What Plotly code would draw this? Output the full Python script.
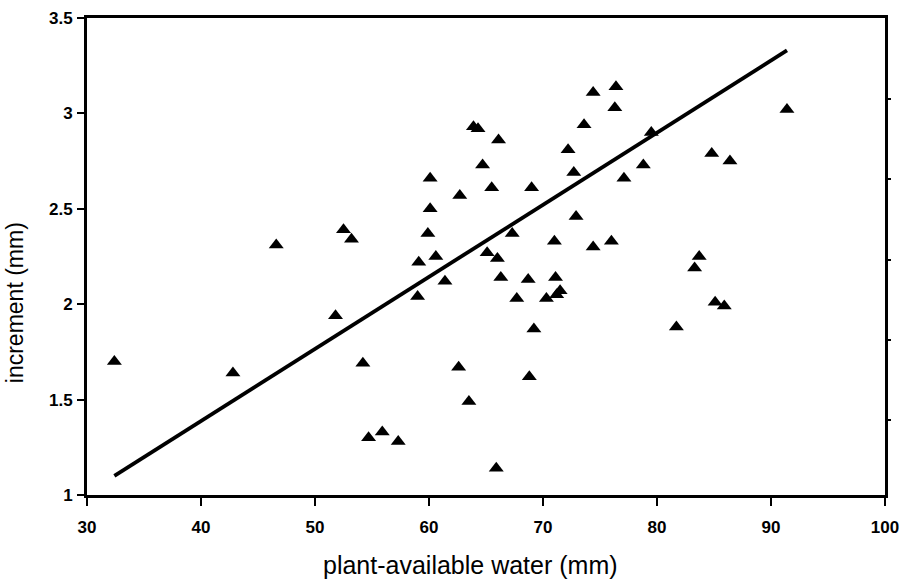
import plotly.graph_objects as go

# plant-available water (mm)
water = [32.4, 42.8, 46.6, 51.8, 52.5, 53.2, 54.2, 54.7, 55.9, 57.3,
         59.0, 59.1, 60.1, 60.1, 59.9, 60.6, 61.4, 62.6, 62.7, 63.5,
         63.9, 64.3, 64.7, 65.5, 65.1, 66.1, 66.0, 69.0, 67.3, 66.3,
         68.7, 71.1, 71.0, 72.9, 72.7, 72.2, 73.6, 74.4, 76.4, 76.3,
         74.4, 76.0, 77.1, 78.8, 79.5, 84.8, 86.4, 91.4, 83.7, 83.3,
         85.1, 85.9, 81.7, 67.7, 69.2, 68.8, 70.3, 71.2, 71.5, 65.9]
# increment (mm)
increment = [1.70, 1.64, 2.31, 1.94, 2.39, 2.34, 1.69, 1.30, 1.33, 1.28,
             2.04, 2.22, 2.66, 2.50, 2.37, 2.25, 2.12, 1.67, 2.57, 1.49,
             2.93, 2.92, 2.73, 2.61, 2.27, 2.86, 2.24, 2.61, 2.37, 2.14,
             2.13, 2.14, 2.33, 2.46, 2.69, 2.81, 2.94, 3.11, 3.14, 3.03,
             2.30, 2.33, 2.66, 2.73, 2.90, 2.79, 2.75, 3.02, 2.25, 2.19,
             2.01, 1.99, 1.88, 2.03, 1.87, 1.62, 2.03, 2.05, 2.07, 1.14]

# regression line end points
fit_x = [32.4, 91.4]
fit_y = [1.10, 3.33]

x_ticks = [30, 40, 50, 60, 70, 80, 90, 100]
x_tick_text = ["<b>%d</b>" % v for v in x_ticks]
y_ticks = [1, 1.5, 2, 2.5, 3, 3.5]
y_tick_text = ["<b>1</b>", "<b>1.5</b>", "<b>2</b>", "<b>2.5</b>", "<b>3</b>", "<b>3.5</b>"]
right_ticks = [0, 1, 2, 3, 4]

x_title = "plant-available water (mm)"
y_title = "increment (mm)"

FONT = "Liberation Sans, Arial, sans-serif"

fig = go.Figure()
fig.add_trace(go.Scatter(x=fit_x, y=fit_y, mode="lines",
                         line=dict(color="black", width=3.8), showlegend=False))
fig.add_trace(go.Scatter(x=water, y=increment, mode="markers",
                         marker=dict(symbol="triangle-up", size=13, color="black"),
                         showlegend=False))
# invisible trace for the unlabeled right-hand axis
fig.add_trace(go.Scatter(x=[None], y=[None], yaxis="y2", showlegend=False))

tickfont = dict(family=FONT, size=17, color="black")
fig.update_layout(
    width=902, height=585,
    margin=dict(l=87, r=17, t=18, b=90),
    paper_bgcolor="white", plot_bgcolor="white",
    xaxis=dict(range=[30, 100], tickvals=x_ticks, ticktext=x_tick_text,
               ticks="outside", ticklen=8, tickwidth=2, tickcolor="black",
               showline=True, linewidth=3, linecolor="black", mirror=True,
               showgrid=False, zeroline=False, automargin=False,
               ticklabelstandoff=7, tickfont=tickfont),
    yaxis=dict(range=[1, 3.5], tickvals=y_ticks, ticktext=y_tick_text,
               ticks="outside", ticklen=7, tickwidth=2, tickcolor="black",
               showline=True, linewidth=3, linecolor="black", mirror=True,
               showgrid=False, zeroline=False, automargin=False,
               ticklabelstandoff=1, tickfont=tickfont),
    yaxis2=dict(overlaying="y", side="right", range=[-0.94, 5.016],
                tickvals=right_ticks, showticklabels=False, ticks="outside",
                ticklen=5, tickwidth=2, tickcolor="black", showline=False,
                showgrid=False, zeroline=False, automargin=False),
    annotations=[
        dict(text=x_title, xref="paper", yref="paper", x=0.48, y=-0.147,
             xanchor="center", yanchor="middle", showarrow=False,
             font=dict(family=FONT, size=25, color="black")),
        dict(text=y_title, xref="paper", yref="paper", x=-0.090, y=0.4025,
             xanchor="center", yanchor="middle", showarrow=False, textangle=-90,
             font=dict(family=FONT, size=23, color="black")),
    ],
)
fig.write_html(
    "out.html",
    config={"displayModeBar": False},
    post_script="document.body.style.margin='0';document.body.style.overflow='hidden';",
)
